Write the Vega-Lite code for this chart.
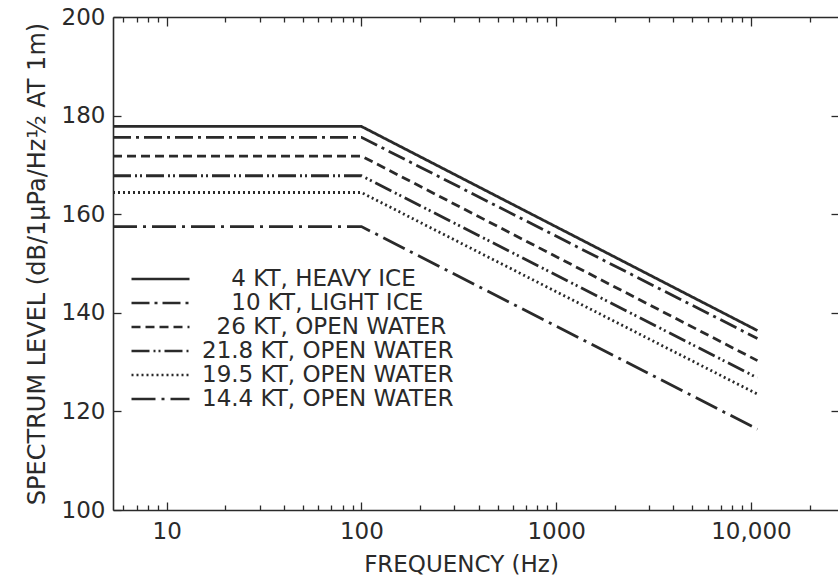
{
  "$schema": "https://vega.github.io/schema/vega-lite/v6.json",
  "autosize": {"type": "none"},
  "padding": {"left": 113, "top": 17, "right": 0, "bottom": 74},
  "width": 725,
  "height": 493,
  "background": "#ffffff",
  "config": {
    "view": {"stroke": null},
    "font": "DejaVu Sans",
    "axis": {
      "domainColor": "#2a2a2a",
      "domainWidth": 1.6,
      "tickColor": "#2a2a2a",
      "tickWidth": 1.3,
      "labelColor": "#2a2a2a",
      "titleColor": "#2a2a2a",
      "labelFont": "DejaVu Sans",
      "titleFont": "DejaVu Sans",
      "labelFontSize": 23,
      "titleFontSize": 23,
      "titleFontWeight": "normal",
      "grid": false
    }
  },
  "data": {
    "values": [
      {"series": "4 KT, HEAVY ICE", "freq": 5.3, "level": 177.8},
      {"series": "4 KT, HEAVY ICE", "freq": 100, "level": 177.8},
      {"series": "4 KT, HEAVY ICE", "freq": 10800, "level": 136.4},
      {"series": "10 KT, LIGHT ICE", "freq": 5.3, "level": 175.6},
      {"series": "10 KT, LIGHT ICE", "freq": 100, "level": 175.6},
      {"series": "10 KT, LIGHT ICE", "freq": 10800, "level": 134.8},
      {"series": "26 KT, OPEN WATER", "freq": 5.3, "level": 171.8},
      {"series": "26 KT, OPEN WATER", "freq": 100, "level": 171.8},
      {"series": "26 KT, OPEN WATER", "freq": 10800, "level": 130.3},
      {"series": "21.8 KT, OPEN WATER", "freq": 5.3, "level": 167.8},
      {"series": "21.8 KT, OPEN WATER", "freq": 100, "level": 167.8},
      {"series": "21.8 KT, OPEN WATER", "freq": 10800, "level": 126.8},
      {"series": "19.5 KT, OPEN WATER", "freq": 5.3, "level": 164.4},
      {"series": "19.5 KT, OPEN WATER", "freq": 100, "level": 164.4},
      {"series": "19.5 KT, OPEN WATER", "freq": 10800, "level": 123.5},
      {"series": "14.4 KT, OPEN WATER", "freq": 5.3, "level": 157.5},
      {"series": "14.4 KT, OPEN WATER", "freq": 100, "level": 157.5},
      {"series": "14.4 KT, OPEN WATER", "freq": 10800, "level": 116.4}
    ]
  },
  "resolve": {"axis": {"x": "independent", "y": "independent"}},
  "layer": [
    {
      "mark": {"type": "line", "color": "#2a2a2a", "strokeWidth": 2.8, "strokeCap": "butt"},
      "encoding": {
        "x": {
          "field": "freq",
          "type": "quantitative",
          "scale": {"type": "log", "domain": [5.3, 28000], "nice": false},
          "axis": {
            "orient": "bottom",
            "title": "FREQUENCY (Hz)",
            "titlePadding": 7,
            "titleX": 348,
            "values": [6,7,8,9,10,20,30,40,50,60,70,80,90,100,200,300,400,500,600,700,800,900,1000,2000,3000,4000,5000,6000,7000,8000,9000,10000,20000],
            "tickSize": {"condition": {"test": "indexof([10,100,1000,10000], datum.value) >= 0", "value": -8}, "value": -5},
            "labelExpr": "datum.value == 10000 ? '10,000' : (indexof([10,100,1000], datum.value) >= 0 ? toString(datum.value) : '')",
            "labelPadding": 18,
            "labelFlush": false,
            "labelOverlap": false
          }
        },
        "y": {
          "field": "level",
          "type": "quantitative",
          "scale": {"domain": [100, 200], "nice": false, "zero": false},
          "axis": {
            "orient": "left",
            "title": "SPECTRUM LEVEL (dB/1μPa/Hz½ AT 1m)",
            "titleFontSize": 24,
            "titlePadding": 12,
            "values": [100, 120, 140, 160, 180, 200],
            "tickSize": -8,
            "labelPadding": 16
          }
        },
        "detail": {"field": "series"},
        "strokeDash": {
          "field": "series",
          "type": "nominal",
          "scale": {
            "domain": ["4 KT, HEAVY ICE", "10 KT, LIGHT ICE", "26 KT, OPEN WATER", "21.8 KT, OPEN WATER", "19.5 KT, OPEN WATER", "14.4 KT, OPEN WATER"],
            "range": [[1, 0], [18, 5, 3, 5], [9, 5], [18, 4, 2, 3, 2, 4], [2, 3], [24, 6, 3, 6]]
          },
          "legend": {
            "orient": "none",
            "legendX": 17,
            "legendY": 250,
            "title": null,
            "symbolType": "stroke",
            "symbolSize": 3364,
            "symbolStrokeWidth": 2.6,
            "symbolStrokeColor": "#2a2a2a",
            "clipHeight": 24,
            "rowPadding": 0,
            "labelOffset": 11,
            "labelFont": "DejaVu Sans",
            "labelFontSize": 23,
            "labelColor": "#2a2a2a",
            "labelLimit": 400,
            "labelExpr": "(datum.label == '4 KT, HEAVY ICE' ? '\u200b\u00a0\u00a0\u00a0\u00a0' : (datum.label == '10 KT, LIGHT ICE' ? '\u200b\u00a0\u00a0\u00a0\u00a0' : (datum.label == '26 KT, OPEN WATER' ? '\u200b\u00a0\u00a0' : ''))) + datum.label"
          }
        }
      }
    },
    {
      "mark": {"type": "line", "opacity": 0},
      "encoding": {
        "x": {
          "field": "freq",
          "type": "quantitative",
          "axis": {
            "orient": "top",
            "title": null,
            "labels": false,
            "values": [6,7,8,9,10,20,30,40,50,60,70,80,90,100,200,300,400,500,600,700,800,900,1000,2000,3000,4000,5000,6000,7000,8000,9000,10000,20000],
            "tickSize": {"condition": {"test": "indexof([10,100,1000,10000], datum.value) >= 0", "value": -9}, "value": -5}
          }
        },
        "y": {
          "field": "level",
          "type": "quantitative",
          "axis": {
            "orient": "right",
            "title": null,
            "labels": false,
            "domain": false,
            "values": [120, 140, 160, 180],
            "tickSize": -7
          }
        },
        "detail": {"field": "series"}
      }
    }
  ]
}
